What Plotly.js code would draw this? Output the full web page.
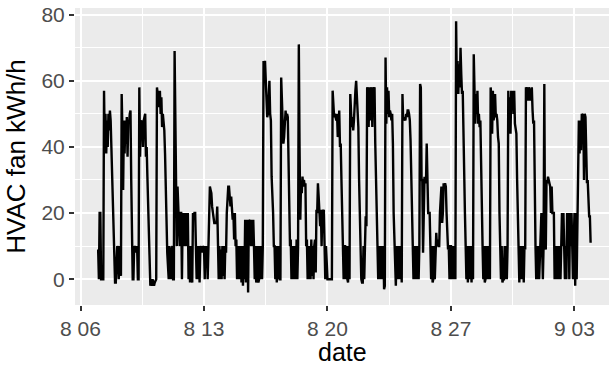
<!DOCTYPE html>
<html>
<head>
<meta charset="utf-8">
<script src="https://cdn.plot.ly/plotly-3.0.1.min.js"></script>
<style>html,body{margin:0;padding:0;background:#fff;}#chart{width:609px;height:367px;}</style>
</head>
<body>
<div id="chart"></div>
<script>
// Hourly HVAC fan readings (kWh/h), one array per day
var aug07 = [9,0,20,20,0,0,0,0,57,40,50,38,48,40,50,45,51,48,40,31,20,10,0,-1];
var aug08 = [-1,8,10,9,0,10,9,1,56,45,27,48,38,48,41,49,37,48,47,50,51,30,10,0];
var aug09 = [0,10,9,10,8,10,0,0,58,37,48,47,48,40,48,49,50,37,40,31,20,10,-1,-2];
var aug10 = [-1,-2,0,-1,-2,-1,0,0,58,56,57,52,57,50,55,46,50,47,45,38,31,18,8,0];
var aug11 = [0,10,1,0,9,10,0,0,69,40,10,10,28,20,20,10,20,20,0,20,10,20,20,10];
var aug12 = [20,10,20,0,10,-1,10,0,-1,20,19,20,20,10,0,10,0,10,-1,9,10,8,10,9];
var aug13 = [10,0,10,8,10,0,10,20,28,27,26,22,20,20,17,17,17,17,22,10,0,10,0,9];
var aug14 = [0,10,1,10,0,10,8,20,27,28,28,26,22,25,20,18,20,12,20,10,12,0,10,0];
var aug15 = [10,0,10,-1,10,-2,10,0,18,-1,10,18,-4,18,17,18,10,18,10,18,10,0,10,-1];
var aug16 = [0,10,-1,0,10,0,10,0,10,66,65,66,60,50,49,50,58,60,50,48,31,20,20,10];
var aug17 = [10,0,10,-1,10,0,10,0,0,61,55,50,41,43,50,51,48,50,49,30,20,10,12,0];
var aug18 = [10,0,10,0,10,0,12,0,10,71,40,18,29,26,31,28,30,28,29,10,12,0,10,0];
var aug19 = [10,0,12,1,10,0,10,12,2,21,20,29,25,21,16,21,10,21,20,21,10,0,10,0];
var aug20 = [0,0,0,0,0,0,0,57,50,49,50,49,48,50,43,44,51,40,41,30,20,10,0,10];
var aug21 = [10,0,10,0,-1,10,0,56,48,46,49,45,48,56,57,60,55,47,46,30,19,10,0,-1];
var aug22 = [-1,10,0,10,19,16,58,57,46,58,48,57,58,46,58,57,58,41,30,20,10,0,10,0];
var aug23 = [10,0,10,0,10,-3,-2,67,47,58,50,57,49,51,50,48,50,41,20,10,0,-2,10,0];
var aug24 = [10,0,10,0,10,-1,56,48,49,48,48,50,49,51,51,50,48,42,28,20,10,0,10,0];
var aug25 = [0,10,0,10,0,10,59,58,30,30,8,28,31,30,29,41,30,20,20,20,10,0,10,-1];
var aug26 = [0,10,0,10,14,10,12,10,10,20,28,28,17,20,29,28,29,28,20,10,9,10,0,10];
var aug27 = [10,0,10,10,0,10,0,78,58,66,56,65,58,70,62,56,57,40,39,20,10,0,10,-1];
var aug28 = [10,0,10,0,-1,10,0,68,57,47,56,50,57,47,50,46,48,30,18,10,0,10,-1,0];
var aug29 = [10,0,10,0,10,0,58,55,44,57,48,50,56,49,50,48,43,41,20,10,0,10,-1,0];
var aug30 = [0,10,0,10,0,10,57,45,55,44,57,52,57,50,57,47,44,44,30,19,10,-1,10,0];
var aug31 = [10,0,10,-1,10,9,58,57,58,54,58,57,54,57,58,51,47,48,19,10,0,10,0,10];
var sep01 = [0,10,20,20,10,0,10,59,10,9,30,29,31,30,29,28,20,28,20,20,20,0,10,0];
var sep02 = [10,0,10,0,10,0,10,20,10,20,10,0,10,0,20,10,20,0,20,10,20,10,0,10];
var sep03 = [20,-2,20,0,20,20,48,38,48,39,50,49,50,30,50,49,30,29,30,20,19,19,11];

var startDate = '2017-08-07T00:00:00Z';
var tickDates = ['2017-08-06','2017-08-13','2017-08-20','2017-08-27','2017-09-03'];
var tickLabels = ['8 06','8 13','8 20','8 27','9 03'];
var yTicks = [0,20,40,60,80];
var xTitle = 'date';
var yTitle = 'HVAC fan kWh/h';

var days = [aug07,aug08,aug09,aug10,aug11,aug12,aug13,aug14,aug15,aug16,aug17,aug18,aug19,aug20,
            aug21,aug22,aug23,aug24,aug25,aug26,aug27,aug28,aug29,aug30,aug31,sep01,sep02,sep03];
var y = [].concat.apply([], days);
var t0 = Date.parse(startDate);
var x = y.map(function(_, i){
  return new Date(t0 + i*3600000).toISOString().slice(0,16).replace('T',' ');
});

var font = 'Liberation Sans, Arial, Helvetica, sans-serif';
var trace = {x: x, y: y, type: 'scatter', mode: 'lines',
  line: {color: '#000000', width: 2.4}, hoverinfo: 'skip'};

var layout = {
  width: 609, height: 367,
  margin: {l: 75, r: 0, t: 8, b: 62},
  paper_bgcolor: '#ffffff', plot_bgcolor: '#EBEBEB',
  showlegend: false,
  font: {family: font},
  xaxis: {
    type: 'date', range: ['2017-08-05 16:30', '2017-09-04 23:00'],
    tickmode: 'array', tickvals: tickDates, ticktext: tickLabels,
    ticks: 'outside', ticklen: 5, tickwidth: 2, tickcolor: '#333333',
    tickfont: {size: 21, color: '#4D4D4D', family: font},
    showgrid: true, gridcolor: '#ffffff', gridwidth: 2,
    zeroline: false, showline: false,
    minor: {tick0: '2017-08-09 12:00', dtick: 7*86400000, showgrid: true, gridcolor: '#ffffff', gridwidth: 1, ticks: ''},
    automargin: false
  },
  yaxis: {
    range: [-7.8, 82.0],
    tickmode: 'array', tickvals: yTicks,
    ticks: 'outside', ticklen: 5, tickwidth: 2, tickcolor: '#333333',
    tickfont: {size: 21, color: '#4D4D4D', family: font},
    showgrid: true, gridcolor: '#ffffff', gridwidth: 2,
    zeroline: false, showline: false,
    minor: {tick0: 0, dtick: 10, showgrid: true, gridcolor: '#ffffff', gridwidth: 1, ticks: ''},
    title: {text: yTitle, font: {size: 26, color: '#000000', family: font}, standoff: 8},
    automargin: false
  },
  annotations: [{
    text: xTitle, xref: 'paper', yref: 'paper', x: 0.5, y: 0,
    xanchor: 'center', yanchor: 'bottom', yshift: -62, borderpad: 0, showarrow: false,
    font: {size: 25, color: '#000000', family: font}
  }]
};

Plotly.newPlot('chart', [trace], layout, {staticPlot: true, displayModeBar: false});
</script>
</body>
</html>
